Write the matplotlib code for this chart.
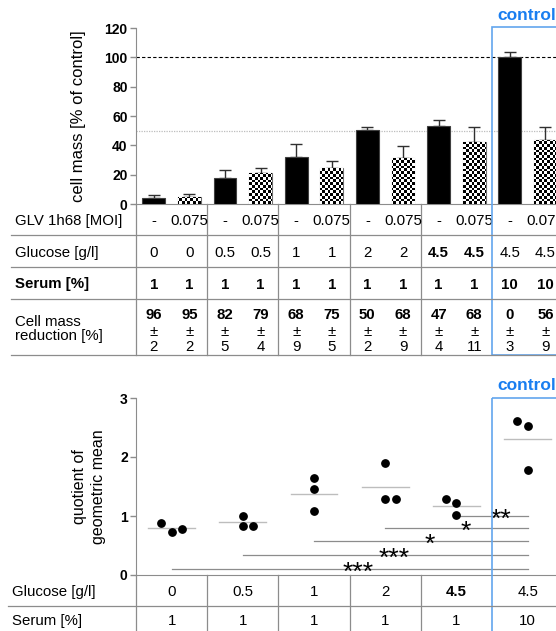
import numpy as np
import matplotlib
matplotlib.use("Agg")
import matplotlib.pyplot as plt
from matplotlib import transforms
from matplotlib.patches import Rectangle

plt.rcParams['font.family'] = ['Liberation Sans', 'DejaVu Sans']

# ---- data, top chart ----
black_mean = [4.1, 17.5, 32.3, 50.2, 53.2, 100.2]
black_sd = [2.0, 5.5, 8.4, 2.3, 4.1, 3.2]
check_mean = [4.8, 21.1, 24.3, 31.6, 42.0, 43.4]
check_sd = [2.2, 3.7, 4.8, 8.2, 10.5, 8.9]

glv_row = ['-', '0.075'] * 6
glucose_row = ['0', '0', '0.5', '0.5', '1', '1', '2', '2', '4.5', '4.5', '4.5', '4.5']
glucose_bold = [8, 9]
serum_row = ['1'] * 10 + ['10', '10']
reduction = [96, 95, 82, 79, 68, 75, 50, 68, 47, 68, 0, 56]
reduction_sd = [2, 2, 5, 4, 9, 5, 2, 9, 4, 11, 3, 9]

# ---- data, bottom chart ----
quot_points = [
    [0.876, 0.734, 0.785],
    [1.0, 0.83, 0.83],
    [1.64, 1.45, 1.085],
    [1.89, 1.29, 1.29],
    [1.28, 1.215, 1.017],
    [2.615, 2.52, 1.78],
]
quot_mean = [0.79, 0.90, 1.38, 1.49, 1.17, 2.305]
jitter = [[-0.3, 0, 0.3], [0, 0, 0.3], [0, 0, 0], [0, 0, 0.3], [-0.3, 0, 0], [-0.3, 0, 0]]
glucose_b = ['0', '0.5', '1', '2', '4.5', '4.5']
serum_b = ['1', '1', '1', '1', '1', '10']
sig_from = [0, 1, 2, 3, 4]
sig_y = [0.097, 0.333, 0.576, 0.80, 0.995]
sig_txt = ['***', '***', '*', '*', '**']

W, H = 556, 631
fig = plt.figure(figsize=(W / 100, H / 100), dpi=100)

unit = 35.6
x0 = 136
xmax = (W - x0) / unit
axw = W - x0


def ax_rect(left, top, bottom):
    return [left / W, 1 - bottom / H, (W - left) / W, (bottom - top) / H]


ax1 = fig.add_axes(ax_rect(x0, 28, 204))
ax2 = fig.add_axes(ax_rect(x0, 398, 575))

# pixel transform (y down)
pix = transforms.Affine2D().scale(1 / W, -1 / H).translate(0, 1) + fig.transFigure
bt1 = transforms.blended_transform_factory(ax1.transData, pix)
bt2 = transforms.blended_transform_factory(ax2.transData, pix)

grey = '#8c8c8c'
blue_txt = '#1a7ef0'
blue_box = '#62a6ee'
fs = 10.8
tick_fs = 10

for ax in (ax1, ax2):
    ax.set_xlim(0, xmax)
    for s in ['top', 'right']:
        ax.spines[s].set_visible(False)
    ax.spines['left'].set_color(grey)
    ax.spines['bottom'].set_color(grey)
    ax.set_xticks([])
    ax.tick_params(axis='y', colors=grey, length=4, width=1, pad=2)

# ---- top chart ----
ax1.set_ylim(0, 120)
ax1.set_yticks(range(0, 121, 20))
ax1.set_yticklabels([str(v) for v in range(0, 121, 20)], fontsize=tick_fs,
                    fontweight='bold', color='black')
ax1.set_ylabel('cell mass [% of control]', fontsize=12)
ax1.yaxis.set_label_coords(-50 / axw, 0.5)

ax1.axhline(100, color='black', lw=0.8, ls=(0, (3, 2)), zorder=1)
ax1.axhline(50, color='#bdbdbd', lw=0.9, ls=(0, (1, 1)), zorder=1)

xb = np.arange(6) * 2 + 0.5
xc = np.arange(6) * 2 + 1.5
bw = 0.64
ax1.bar(xb, black_mean, width=bw, color='black', edgecolor='#404040', lw=0.8, zorder=3)
cbars = ax1.bar(xc, check_mean, width=bw, color='white', edgecolor='#707070', lw=0.8, zorder=3)
ax1.errorbar(xb, black_mean, yerr=[np.zeros(6), black_sd], fmt='none',
             ecolor='#303030', elinewidth=1, capsize=4, capthick=1, zorder=2)
ax1.errorbar(xc, check_mean, yerr=[np.zeros(6), check_sd], fmt='none',
             ecolor='#303030', elinewidth=1, capsize=4, capthick=1, zorder=2)

ny, nx = 65, 158
checker = (np.indices((ny, nx)).sum(axis=0) % 2).astype(float)
for b in cbars:
    im = ax1.imshow(checker, extent=[0, 12, 0, 120], aspect='auto', cmap='gray_r',
                    interpolation='nearest', vmin=0, vmax=1, zorder=3.5)
    im.set_clip_path(b)
ax1.set_xlim(0, xmax)
ax1.set_ylim(0, 120)

# top table
for yy in [235, 267, 299, 355]:
    fig.add_artist(plt.Line2D([11, W], [yy, yy], transform=pix, color=grey, lw=0.9))
for gx in [0, 2, 4, 6, 8]:
    ax1.plot([gx, gx], [204, 355], transform=bt1, color=grey, lw=0.9, clip_on=False)

fig.text(15, 221, 'GLV 1h68 [MOI]', transform=pix, fontsize=fs, va='center')
fig.text(15, 253, 'Glucose [g/l]', transform=pix, fontsize=fs, va='center')
fig.text(15, 284, 'Serum [%]', transform=pix, fontsize=fs, va='center', fontweight='bold')
fig.text(15, 329, 'Cell mass\nreduction [%]', transform=pix, fontsize=fs, va='center',
         linespacing=1.0)

cols = np.arange(12) + 0.5
for i, c in enumerate(cols):
    ax1.text(c, 221, glv_row[i], transform=bt1, ha='center', va='center', fontsize=fs,
             clip_on=False)
    ax1.text(c, 253, glucose_row[i], transform=bt1, ha='center', va='center', fontsize=fs,
             fontweight='bold' if i in glucose_bold else 'normal', clip_on=False)
    ax1.text(c, 285, serum_row[i], transform=bt1, ha='center', va='center', fontsize=fs,
             fontweight='bold', clip_on=False)
    ax1.text(c, 315, str(reduction[i]), transform=bt1, ha='center', va='center', fontsize=fs,
             fontweight='bold', clip_on=False)
    ax1.text(c, 332, '±', transform=bt1, ha='center', va='center', fontsize=fs, clip_on=False)
    ax1.text(c, 347, str(reduction_sd[i]), transform=bt1, ha='center', va='center',
             fontsize=fs, clip_on=False)

ax1.add_patch(Rectangle((10, 355), 3, -328, transform=bt1, fill=False,
                        edgecolor=blue_box, lw=1.2, clip_on=False, zorder=5))
ax1.text(10.15, 15, 'control', transform=bt1, color=blue_txt, fontsize=12.5,
         fontweight='bold', va='center', ha='left', clip_on=False)

# ---- bottom chart ----
ax2.set_ylim(0, 3)
ax2.set_yticks([0, 1, 2, 3])
ax2.set_yticklabels(['0', '1', '2', '3'], fontsize=tick_fs, fontweight='bold', color='black')
ax2.set_ylabel('quotient of\ngeometric mean', fontsize=11.5, linespacing=1.3)
ax2.yaxis.set_label_coords(-30 / axw, 0.5)

centers = np.arange(6) * 2 + 1
for g in range(6):
    ax2.scatter(centers[g] + np.array(jitter[g]), quot_points[g], s=28, color='black',
                zorder=4, clip_on=False)
    ax2.plot([centers[g] - 0.66, centers[g] + 0.66], [quot_mean[g]] * 2,
             color='#bdbdbd', lw=1, zorder=3, clip_on=False)

for k in range(5):
    s = centers[sig_from[k]]
    e = centers[5]
    ax2.plot([s, e], [sig_y[k]] * 2, color=grey, lw=0.9, zorder=2)
    ax2.text((s + e) / 2 + 0.25, sig_y[k] - 0.18, sig_txt[k], ha='center',
             va='baseline', fontsize=19, zorder=5)

fig.add_artist(plt.Line2D([8, W], [606, 606], transform=pix, color=grey, lw=0.9))
for gx in [0, 2, 4, 6, 8]:
    ax2.plot([gx, gx], [575, H], transform=bt2, color=grey, lw=0.9, clip_on=False)
fig.text(12, 592, 'Glucose [g/l]', transform=pix, fontsize=fs, va='center')
fig.text(12, 621, 'Serum [%]', transform=pix, fontsize=fs, va='center')
for g in range(6):
    ax2.text(centers[g], 592, glucose_b[g], transform=bt2, ha='center', va='center',
             fontsize=fs, fontweight='bold' if g == 4 else 'normal', clip_on=False)
    ax2.text(centers[g], 621, serum_b[g], transform=bt2, ha='center', va='center',
             fontsize=fs, clip_on=False)

ax2.add_patch(Rectangle((10, 398), 3, 250, transform=bt2, fill=False,
                        edgecolor=blue_box, lw=1.2, clip_on=False, zorder=5))
ax2.text(10.15, 385, 'control', transform=bt2, color=blue_txt, fontsize=12.5,
         fontweight='bold', va='center', ha='left', clip_on=False)

fig.savefig('out.png', dpi=100)
